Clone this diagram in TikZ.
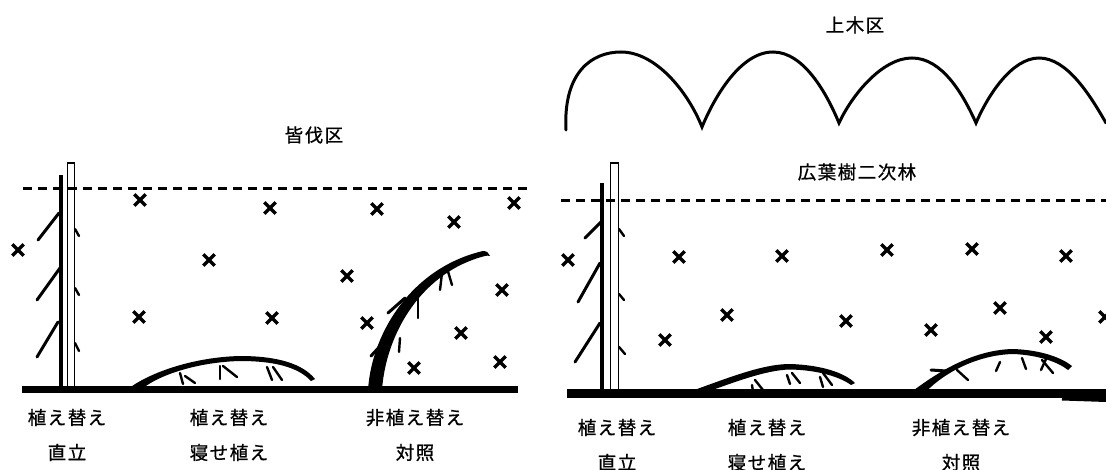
\documentclass[tikz,border=0pt]{standalone}
\usepackage{fontspec}
\newfontfamily\jp[LetterSpace=8, FakeBold=0.8]{Noto Sans CJK JP}
\usetikzlibrary{shapes.misc}

\begin{document}
\begin{tikzpicture}[x=1pt, y=-1pt,
    xmark/.style={cross out, draw, line width=3.4pt, minimum size=8pt, inner sep=0pt},
    lbl/.style={font=\jp\fontsize{18.5}{35}\selectfont, align=center, inner sep=0pt},
    title/.style={font=\jp\fontsize{18.5}{20}\selectfont, inner sep=0pt},
    ground/.style={line width=7pt},
    height/.style={line width=3pt, dash pattern=on 9pt off 6pt},
    branch/.style={line width=3pt, line cap=round},
    twig/.style={line width=2.4pt, line cap=round}]
    \useasboundingbox (0,0) rectangle (1106,470);

    % titles
    \node[title] (cut) at (314,135) {皆伐区};
    \node[title] (upper) at (855,25) {上木区};
    \node[title] (broad) at (857,172) {広葉樹二次林};

    % canopy of the upper trees
    \draw[line width=3pt, line cap=round]
        (566,130) .. controls (563,72) and (592,52) .. (621,52)
        .. controls (656,52) and (688,92) .. (702,127)
        .. controls (714,98) and (740,52) .. (773,52)
        .. controls (804,52) and (827,94) .. (839,123)
        .. controls (852,95) and (882,58) .. (912,58)
        .. controls (942,58) and (963,94) .. (976,123)
        .. controls (988,95) and (1012,58) .. (1039,58)
        .. controls (1067,58) and (1090,95) .. (1106,123);

    % height lines and ground
    \draw[height] (23,189) -- (532,189);
    \draw[height] (561,201) -- (1106,201);
    \draw[ground] (22,389) -- (518,389);
    \draw[ground, line width=9pt] (567,393) -- (1106,393);
    \draw[line width=5pt] (1062,398) -- (1106,399.5);

    % left: upright planted tree with its stake
    \draw[line width=4.5pt] (61,175) -- (61,389);
    \draw[line width=1.6pt] (67.5,389) -- (67.5,163) -- (74.5,163) -- (74.5,389);
    \draw[branch] (59,213) -- (38,240);
    \draw[branch] (60,268) -- (37,300);
    \draw[branch] (58,322) -- (37,357);
    \draw[twig] (75,229) -- (79,236);
    \draw[twig] (75,288) -- (79,295);
    \draw[twig] (75,343) -- (79,351);

    % left: laid-down planting
    \fill (128,389) .. controls (150,372) and (195,357) .. (240,356)
        .. controls (278,356) and (303,364) .. (315,379)
        -- (311,381) .. controls (298,367) and (274,361) .. (240,361)
        .. controls (200,362) and (160,374) .. (142,389) -- cycle;
    \draw[twig] (180,373) -- (183,384);
    \draw[twig] (185,376) -- (195,383);
    \draw[twig] (220,366) -- (220,379);
    \draw[twig] (223,366) -- (237,377);
    \draw[twig] (267,367) -- (272,380);
    \draw[twig] (273,367) -- (282,380);

    % left: unplanted control
    \fill (368,390) .. controls (372,330) and (414,267) .. (483,251)
        .. controls (487,251) and (489,253) .. (490,256)
        .. controls (488,256) and (487,255) .. (485,256)
        .. controls (422,272) and (386,333) .. (382,390) -- cycle;
    \draw[branch] (371,356) -- (394,331);
    \draw[branch] (388,313) -- (405,298);
    \draw[twig] (400,338) -- (399,352);
    \draw[twig] (418,298) -- (418,318);
    \draw[twig] (442,273) -- (440,290);
    \draw[twig] (447,268) -- (452,285);

    % right: upright planted tree with its stake
    \draw[line width=4.5pt] (602,183) -- (602,393);
    \draw[line width=1.6pt] (610.5,393) -- (610.5,163) -- (618.5,163) -- (618.5,393);
    \draw[branch] (601,222) -- (585,238);
    \draw[branch] (600,263) -- (578,302);
    \draw[branch] (600,323) -- (575,362);
    \draw[twig] (619,229) -- (624,236);
    \draw[twig] (619,294) -- (624,300);
    \draw[twig] (619,347) -- (625,354);

    % right: laid-down planting
    \fill (686,393) .. controls (728,378) and (762,364) .. (790,364)
        .. controls (822,365) and (845,373) .. (855,383)
        -- (851,385) .. controls (840,377) and (818,370) .. (790,369.5)
        .. controls (766,370) and (735,382) .. (704,393) -- cycle;
    \draw[twig] (752,385) -- (753,392);
    \draw[twig] (755,380) -- (763,390);
    \draw[twig] (787,375) -- (790,384);
    \draw[twig] (792,373) -- (800,383);
    \draw[twig] (820,377) -- (823,387);
    \draw[twig] (823,373) -- (832,385);

    % right: unplanted control
    \fill (906,396) .. controls (925,382) and (965,350) .. (1013,349)
        .. controls (1042,350) and (1062,358) .. (1072,366)
        -- (1068,370) .. controls (1058,362) and (1038,355) .. (1013,354)
        .. controls (975,355) and (940,375) .. (922,396) -- cycle;
    \draw[branch] (931,370) -- (946,371);
    \draw[twig] (957,370) -- (968,380);
    \draw[twig] (1000,362) -- (996,371);
    \draw[twig] (1022,358) -- (1026,369);
    \draw[twig] (1042,360) -- (1053,373);
    \draw[twig] (1046,359) -- (1041,370);

    % weeds in the clear-cut
    \foreach \p [count=\i] in {(18,250), (140,200), (270,208), (209,260), (139,317),
        (272,318), (377,209), (454,222), (514,203), (347,276), (502,290),
        (367,323), (461,333), (414,368), (500,362)}
        \node[xmark] (wl\i) at \p {};
    % weeds under the upper trees
    \foreach \p [count=\i] in {(568,260), (679,257), (782,256), (887,250), (972,249),
        (1066,256), (727,315), (846,321), (1000,308), (931,330), (1046,337),
        (665,340), (1105,317)}
        \node[xmark] (wr\i) at \p {};

    % treatment labels
    \node[lbl] (l1) at (67,435) {植え替え\\直立};
    \node[lbl] (l2) at (229,435) {植え替え\\寝せ植え};
    \node[lbl] (l3) at (415,435) {非植え替え\\対照};
    \node[lbl] (r1) at (617,445) {植え替え\\直立};
    \node[lbl] (r2) at (767,445) {植え替え\\寝せ植え};
    \node[lbl] (r3) at (961,445) {非植え替え\\対照};
\end{tikzpicture}
\end{document}
